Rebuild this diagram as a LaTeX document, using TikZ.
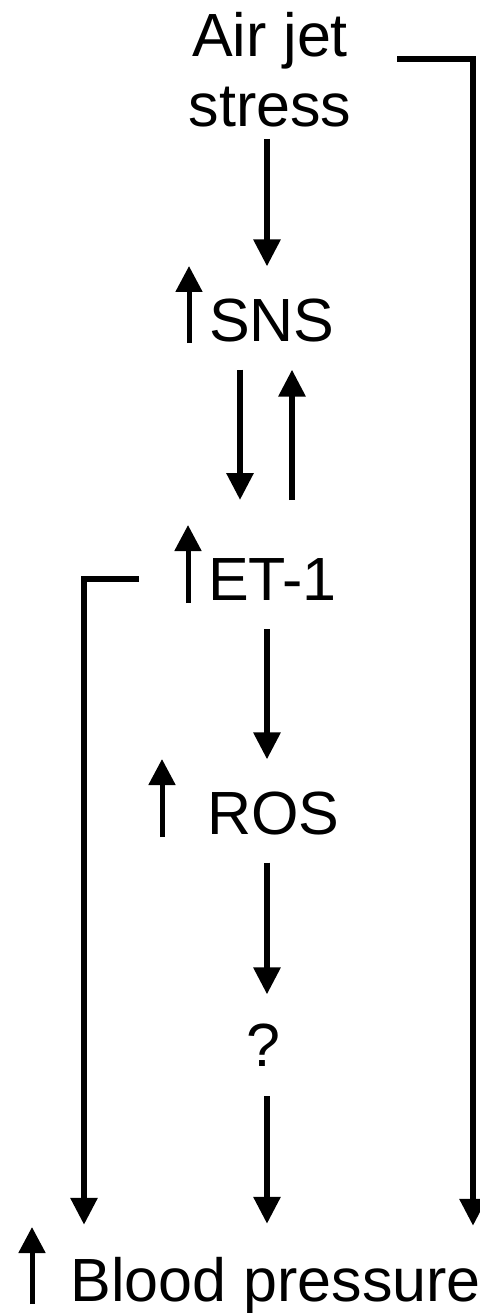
\documentclass[tikz,border=0pt]{standalone}
\usepackage{fontspec}
\setmainfont{Liberation Sans}
\usetikzlibrary{arrows.meta,calc}
\begin{document}
\begin{tikzpicture}[x=1pt,y=-1pt,
  term/.style={inner sep=0pt, outer sep=0pt, font=\fontsize{61pt}{70pt}\selectfont},
  flow/.style={line width=6pt, -{Triangle[width=26pt,length=27pt]}},
  rise/.style={line width=5pt, -{Triangle[width=26pt,length=26pt]}}]

\useasboundingbox (0,0) rectangle (479,1313);

% labels
\node[term, align=center, anchor=north] (airjet) at (270,12) {Air jet\\stress};
\node[term, anchor=base west] (sns) at (209,341) {SNS};
\node[term, anchor=base west] (et1) at (208,600) {ET-1};
\node[term, anchor=base west] (ros) at (207,834) {ROS};
\node[term, anchor=base] (q) at (263,1066) {?};
\node[term, anchor=base west] (bp) at (70.5,1301) {Blood pressure};

% "increase" marks
\draw[rise] ($(sns.base west)+(-20,2)$) -- ++(0,-77);
\draw[rise] ($(et1.base west)+(-20,3)$) -- ++(0,-78);
\draw[rise] ($(ros.base west)+(-45,3)$) -- ++(0,-78);
\draw[rise] ($(bp.base west)+(-38.5,3)$) -- ++(0,-77);

% vertical rails
\coordinate (spine) at (267,0);
\coordinate (down) at (240,0);
\coordinate (up) at (292,0);
\coordinate (rrail) at (473,0);
\coordinate (lrail) at (84,0);

% main cascade
\draw[flow, shorten <=12pt, shorten >=32pt] (airjet.south -| spine) -- (sns.north -| spine);
\draw[flow, shorten <=28pt, shorten >=58pt] (sns.south -| down) -- (et1.north -| down);
\draw[flow, shorten <=58pt, shorten >=28pt] (et1.north -| up) -- (sns.south -| up);
\draw[flow, shorten <=29pt, shorten >=32pt] (et1.south -| spine) -- (ros.north -| spine);
\draw[flow, shorten <=28pt, shorten >=29pt] (ros.south -| spine) -- (q.north -| spine);
\draw[flow, shorten <=30pt, shorten >=33pt] (q.south -| spine) -- (bp.north -| spine);

% side branches
\coordinate (jetout) at ($(airjet.north east)+(46,47)$);
\draw[flow, shorten >=31pt] (jetout) -- (jetout -| rrail) -- (bp.north -| rrail);
\draw[flow, shorten <=69pt, shorten >=32pt] (et1.west) -- (et1.west -| lrail) -- (bp.north -| lrail);
\end{tikzpicture}
\end{document}
